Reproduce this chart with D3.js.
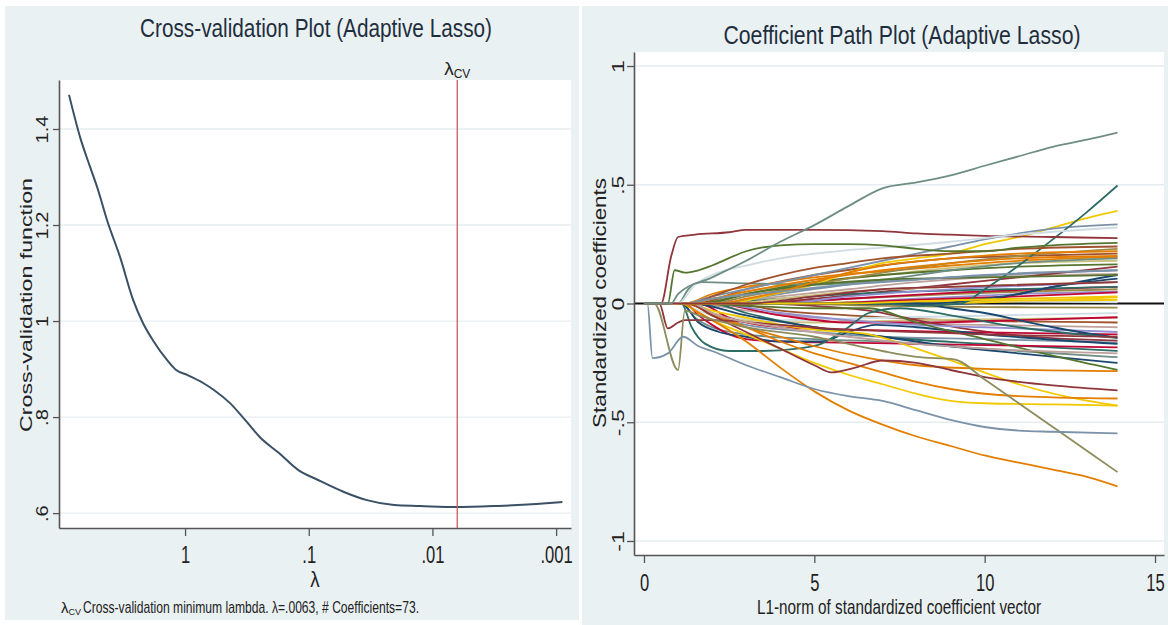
<!DOCTYPE html>
<html><head><meta charset="utf-8">
<script src="https://cdn.jsdelivr.net/npm/d3@7"></script>
<style>
body{margin:0;background:#fff;}
svg{display:block;font-family:"Liberation Sans",Arial,Helvetica,sans-serif;}
</style>
</head><body>
<svg id="c" width="1168" height="625"></svg>
<script>
// ---------------- DATA ----------------
// Left panel: cross-validation function vs lambda
const cvLambda = [8.67, 7.06, 5.86, 5.05, 4.27, 3.35, 2.63, 2.19, 1.82, 1.40, 1.18, 0.955, 0.714, 0.581, 0.433, 0.327, 0.248, 0.174, 0.122, 0.0841, 0.0519, 0.0339, 0.0204, 0.0126, 0.00646, 0.00295, 0.00145, 0.00089];
const cvValue  = [1.471, 1.383, 1.321, 1.273, 1.210, 1.133, 1.044, 0.996, 0.960, 0.919, 0.898, 0.8875, 0.871, 0.856, 0.829, 0.794, 0.758, 0.725, 0.690, 0.669, 0.644, 0.627, 0.617, 0.615, 0.6125, 0.615, 0.619, 0.623];
const cvTicksX = [1, 0.1, 0.01, 0.001];
const cvTickLabelsX = ["1", ".1", ".01", ".001"];
const cvTicksY = [0.6, 0.8, 1, 1.2, 1.4];
const cvTickLabelsY = [".6", ".8", "1", "1.2", "1.4"];
const lambdaCV = 0.0063;
const nCoefficients = 73;

// Right panel: coefficient paths (L1-norm, standardized coefficient)
const pathTicksX = [0, 5, 10, 15];
const pathTickLabelsX = ["0", "5", "10", "15"];
const pathTicksY = [-1, -0.5, 0, 0.5, 1];
const pathTickLabelsY = ["-1", "-.5", "0", ".5", "1"];

const palette = {
  navy:"#1a476f", maroon:"#90353b", green:"#55752f", orange:"#e37e00", teal:"#6e8e84",
  cran:"#c10534", lav:"#938dd2", khaki:"#cac27e", sienna:"#a0522d", emid:"#7b92a8",
  emerald:"#2d6d66", brown:"#9c8847", erose:"#bfa19c", gold:"#f2c800", bgray:"#cfdde3", olive:"#8d8c5c"
};

const coefPathColor = [
  "lav","erose","khaki","brown","sienna","cran","navy","emid","gold","bgray",
  "orange","maroon","green","emerald","teal",
  "erose","sienna","khaki","bgray","brown","cran","emid","maroon","cran","emerald","lav","navy",
  "teal","cran","navy","navy","green","emerald","gold","gold","orange","orange","orange","maroon","maroon","olive","emid",
  "gold","gold","cran","erose","lav","navy","emid","khaki","brown","emerald","green","orange","sienna","maroon","orange","emid","gold","bgray","green","maroon","teal"
];

const coefPaths = [
  // positive side, small
  [[0,0],[5,0],[8,0.02],[11,0.04],[13.9,0.05]],
  [[0,0],[2,0],[4,0.03],[6,0.06],[8,0.09],[10,0.11],[13.9,0.125]],
  [[0,0],[1.5,0],[3,0.05],[5,0.09],[7,0.12],[9,0.15],[11,0.17],[13.9,0.18]],
  [[0,0],[3.5,0],[6,0.02],[9,0.04],[13.9,0.06]],
  [[0,0],[1.5,0],[3,0.06],[5,0.12],[7,0.16],[9,0.19],[11,0.2],[13.9,0.21]],
  [[0,0],[3,0],[6,0.02],[9,0.045],[13.9,0.07]],
  [[0,0],[9.5,0],[11,0.04],[12,0.07],[13.9,0.12]],
  [[0,0],[2,0],[4,0.04],[6,0.08],[9,0.11],[13.9,0.14]],
  [[0,0],[8,0],[10,0.005],[12,0.015],[13.9,0.026]],
  [[0,0],[6,0],[9,0.012],[11,0.01],[13.9,0.005]],
  [[0,0],[1.2,0],[2,0.04],[3,0.07],[4,0.09],[5,0.11],[6,0.125],[7,0.135],[9,0.16],[11,0.18],[13.9,0.195]],
  [[0,0],[3,0],[5,0.02],[7,0.05],[9,0.08],[11,0.11],[13.9,0.155]],
  [[0,0],[1.8,0],[3,0.04],[5,0.09],[7,0.12],[9,0.14],[11,0.155],[13.9,0.165]],
  [[0,0],[2,0],[4,0.02],[6,0.04],[9,0.055],[13.9,0.07]],
  [[0,0],[1.0,0],[1.3,0.06],[1.7,0.09],[3,0.085],[5,0.08],[7,0.1],[9,0.14],[11,0.17],[13.9,0.19]],
  // negative side, small
  [[0,0],[1.5,0],[3,-0.03],[5,-0.06],[7,-0.08],[10,-0.09],[13.9,-0.1]],
  [[0,0],[2.5,0],[4,-0.03],[6,-0.05],[9,-0.07],[13.9,-0.08]],
  [[0,0],[1.2,0],[2,-0.04],[3,-0.07],[5,-0.08],[8,-0.07],[13.9,-0.06]],
  [[0,0],[1.0,0],[2,-0.05],[4,-0.07],[7,-0.06],[13.9,-0.04]],
  [[0,0],[4,0],[7,-0.01],[10,-0.015],[13.9,-0.017]],
  [[0,0],[2,0],[4,-0.05],[6,-0.08],[8,-0.08],[11,-0.07],[13.9,-0.058]],
  [[0,0],[1.3,0],[2,-0.05],[3,-0.09],[5,-0.12],[7,-0.14],[10,-0.15],[13.9,-0.165]],
  [[0,0],[3,0],[5,-0.01],[6.6,-0.03],[8,-0.07],[9.6,-0.11],[11,-0.135],[13.9,-0.156]],
  [[0,0],[1.6,0],[2.5,-0.06],[4,-0.1],[6,-0.11],[9,-0.12],[13.9,-0.13]],
  [[0,0],[2,0],[3,-0.04],[5,-0.1],[7,-0.14],[10,-0.17],[13.9,-0.2]],
  [[0,0],[2,0],[4,-0.04],[6,-0.07],[8,-0.09],[10,-0.1],[13.9,-0.12]],
  [[0,0],[8,0],[9,-0.02],[10,-0.04],[11,-0.07],[12,-0.1],[13.9,-0.145]],
  [[0,0],[1.1,0],[1.5,-0.06],[2,-0.1],[3,-0.13],[5,-0.15],[7,-0.16],[9,-0.18],[11,-0.2],[13.9,-0.226]],
  [[0,0],[1.2,0],[1.6,-0.05],[2,-0.09],[2.5,-0.13],[3,-0.15],[4,-0.16],[6,-0.165],[8,-0.17],[10,-0.175],[13.9,-0.185]],
  [[0,0],[1.4,0],[3,-0.05],[5,-0.1],[7,-0.14],[9,-0.18],[11,-0.21],[13.9,-0.25]],
  [[0,0],[1.1,0],[1.6,-0.08],[2.2,-0.12],[3,-0.14],[4,-0.16],[5.2,-0.16],[6,-0.12],[6.8,-0.09],[8,-0.1],[10,-0.13],[13.9,-0.17]],
  [[0,0],[1.5,0],[3,-0.01],[5,-0.02],[6.6,-0.02],[8,-0.08],[10,-0.15],[12,-0.22],[13.9,-0.28]],
  [[0,0],[1.1,0],[1.4,-0.1],[1.8,-0.17],[2.5,-0.2],[3.5,-0.2],[4.5,-0.19],[5.2,-0.17],[6,-0.1],[6.6,-0.04],[7.5,-0.02],[9,-0.05],[11,-0.1],[13.9,-0.145]],
  [[0,0],[1.1,0],[1.5,-0.03],[2,-0.07],[3,-0.13],[4,-0.19],[5,-0.25],[6,-0.3],[7,-0.34],[8,-0.38],[9,-0.41],[10,-0.42],[12,-0.425],[13.9,-0.43]],
  [[0,0],[1.3,0],[2,-0.03],[3,-0.06],[4,-0.09],[5,-0.11],[6.6,-0.13],[8,-0.19],[9.6,-0.27],[11,-0.34],[12.5,-0.395],[13.9,-0.43]],
  [[0,0],[1.3,0],[2,-0.05],[3,-0.1],[4,-0.14],[5,-0.18],[6.6,-0.23],[8,-0.26],[10,-0.275],[13.9,-0.285]],
  [[0,0],[1.2,0],[2,-0.04],[3,-0.1],[4,-0.16],[5,-0.21],[6,-0.25],[7,-0.29],[8,-0.33],[9,-0.36],[10,-0.38],[11,-0.39],[12,-0.395],[13.9,-0.4]],
  [[0,0],[1.15,0],[1.5,-0.03],[2,-0.07],[3,-0.16],[4,-0.27],[5,-0.37],[6,-0.45],[7,-0.51],[8,-0.56],[9,-0.6],[10,-0.64],[11,-0.67],[12,-0.7],[13,-0.73],[13.9,-0.77]],
  [[0,0],[0.45,0],[0.7,-0.105],[1.0,-0.08],[1.2,-0.07],[2,-0.07],[4,-0.09],[6,-0.11],[8,-0.12],[10,-0.13],[13.9,-0.14]],
  [[0,0],[1.3,0],[2,-0.05],[3,-0.12],[4,-0.19],[5,-0.26],[5.5,-0.29],[6.2,-0.27],[7,-0.24],[8,-0.25],[9,-0.28],[10,-0.31],[11,-0.33],[12,-0.345],[13.9,-0.366]],
  [[0,0],[0.3,0],[1.0,-0.28],[1.2,-0.03],[1.6,-0.05],[3,-0.1],[5,-0.14],[6,-0.17],[7,-0.2],[8,-0.225],[9.1,-0.235],[10,-0.32],[11,-0.42],[12,-0.52],[13,-0.62],[13.9,-0.71]],
  [[0,0],[0.1,0],[0.25,-0.23],[0.7,-0.21],[1.15,-0.14],[1.6,-0.18],[2,-0.2],[3,-0.26],[4,-0.31],[5,-0.36],[6,-0.39],[7,-0.41],[8,-0.45],[9,-0.49],[10,-0.52],[11,-0.535],[12,-0.54],[13.9,-0.547]],
  // positive side, larger
  [[0,0],[2.5,0],[3.5,0.03],[5,0.08],[6,0.13],[7,0.17],[8,0.19],[9,0.21],[10,0.25],[11,0.28],[12,0.32],[13,0.36],[13.9,0.39]],
  [[0,0],[4,0],[6,0.005],[9,0.01],[13.9,0.015]],
  [[0,0],[5,0],[7,0.01],[9,0.02],[11,0.03],[13.9,0.047]],
  [[0,0],[1.4,0],[2,-0.04],[4,-0.1],[6,-0.14],[8,-0.17],[10,-0.19],[13.9,-0.21]],
  [[0,0],[4,0],[6,0.03],[9,0.06],[13.9,0.09]],
  [[0,0],[8.5,0],[10,0.02],[11,0.04],[12,0.07],[13.9,0.105]],
  [[0,0],[1.2,0],[2,0.03],[3,0.06],[4,0.09],[5,0.12],[6,0.15],[7,0.18],[8,0.21],[9,0.24],[10,0.27],[11,0.295],[12,0.315],[13.9,0.333]],
  [[0,0],[2.5,0],[4,0.02],[6,0.05],[9,0.07],[13.9,0.09]],
  [[0,0],[2,0],[3,0.03],[5,0.08],[7,0.13],[9,0.17],[11,0.2],[13.9,0.23]],
  [[0,0],[7,0],[8,-0.01],[9.3,0],[10,0.06],[11,0.16],[12,0.27],[13,0.385],[13.9,0.497]],
  [[0,0],[1.6,0],[3,0.04],[5,0.08],[7,0.1],[10,0.11],[13.9,0.12]],
  [[0,0],[2.2,0],[3,0.02],[4,0.05],[5,0.09],[6,0.13],[7,0.16],[9,0.19],[11,0.21],[13.9,0.22]],
  [[0,0],[1.4,0],[2,0.03],[3,0.08],[4,0.12],[5,0.15],[6,0.17],[7,0.19],[9,0.21],[11,0.23],[13.9,0.24]],
  [[0,0],[0.5,0],[0.8,0.2],[1.0,0.28],[1.5,0.29],[2.5,0.3],[3,0.31],[5,0.31],[7,0.305],[8,0.295],[9,0.29],[10,0.285],[12,0.28],[13.9,0.275]],
  [[0,0],[1.3,0],[2,0.02],[3,0.05],[5,0.1],[7,0.14],[9,0.17],[11,0.19],[13.9,0.2]],
  [[0,0],[1.2,0],[2,0.02],[4,0.05],[6,0.08],[8,0.1],[10,0.12],[13.9,0.14]],
  [[0,0],[6,0],[8,0.01],[11,0.02],[13.9,0.03]],
  [[0,0],[1.0,0],[1.5,0.08],[2,0.12],[3,0.16],[4,0.19],[5,0.21],[6,0.225],[7,0.235],[9,0.26],[11,0.29],[13.9,0.32]],
  [[0,0],[0.7,0],[0.9,0.14],[1.2,0.13],[1.6,0.14],[2,0.16],[3,0.22],[4,0.245],[5,0.25],[6,0.25],[7,0.245],[8,0.23],[9,0.22],[10,0.22],[11,0.235],[12,0.245],[13.9,0.255]],
  [[0,0],[3,0],[5,0.03],[7,0.06],[9,0.07],[13.9,0.09]],
  [[0,0],[0.8,0],[1,0.04],[2,0.11],[3,0.18],[4,0.26],[5,0.33],[6,0.41],[7,0.485],[8,0.51],[9,0.54],[10,0.58],[11,0.62],[12,0.66],[13,0.69],[13.9,0.72]]
];

// ---------------- DRAWING ----------------
const svg = d3.select("#c");
const BG = "#eaf1f3";
const GRID = "#e6edf0";
const AXIS = "#555";
const TXT = "#222";
const TITLE = "#1f2e3d";

svg.append("rect").attr("x",5).attr("y",6).attr("width",574).attr("height",614).attr("fill",BG);
svg.append("rect").attr("x",582).attr("y",6).attr("width",586).attr("height",619).attr("fill",BG);

function addText(g, str, x, y, o) {
  const t = g.append("text").text(str)
    .attr("font-size", o.size).attr("fill", o.fill || TXT)
    .attr("text-anchor", o.anchor || "middle");
  let tr = `translate(${x},${y})`;
  if (o.rotate) tr += ` rotate(${o.rotate})`;
  if (o.sx) tr += ` scale(${o.sx},1)`;
  if (o.sy) tr += ` scale(1,${o.sy})`;
  t.attr("transform", tr);
  if (o.len) t.attr("textLength", o.len).attr("lengthAdjust", "spacingAndGlyphs");
  return t;
}

// ===== Left panel =====
const L = {x0:59, x1:571, y0:80, y1:528};
const xL = d3.scaleLog().domain([10.45, 0.000758]).range([L.x0, L.x1]);
const yL = d3.scaleLinear().domain([0.569, 1.502]).range([L.y1, L.y0]);
const gL = svg.append("g");
gL.append("rect").attr("x",L.x0).attr("y",L.y0).attr("width",L.x1-L.x0).attr("height",L.y1-L.y0).attr("fill","#fff");
gL.selectAll("line.grid").data(cvTicksY).join("line").attr("class","grid")
  .attr("x1",L.x0).attr("x2",L.x1).attr("y1",d=>yL(d)).attr("y2",d=>yL(d))
  .attr("stroke",GRID).attr("stroke-width",1.3);

const axLY = gL.append("g").attr("transform",`translate(${L.x0},0)`)
  .call(d3.axisLeft(yL).tickValues(cvTicksY).tickFormat((d,i)=>cvTickLabelsY[i]).tickSize(6).tickSizeOuter(0));
const axLX = gL.append("g").attr("transform",`translate(0,${L.y1})`)
  .call(d3.axisBottom(xL).tickValues(cvTicksX).tickFormat((d,i)=>cvTickLabelsX[i]).tickSize(8).tickSizeOuter(0));
[axLY, axLX].forEach(a=>{
  a.select(".domain").attr("stroke",AXIS).attr("stroke-width",1.6);
  a.selectAll(".tick line").attr("stroke",AXIS).attr("stroke-width",1.3);
  a.selectAll("text").attr("fill",TXT).attr("font-family",null).attr("font-size",null).style("font-size","20px");
});
axLY.selectAll("text").attr("x",null).attr("dy",null).attr("text-anchor","middle")
  .attr("transform","translate(-11,0) rotate(-90) scale(1,0.8)");
axLX.selectAll("text").attr("y",null).attr("dy",null)
  .attr("transform","translate(0,35) scale(0.72,1)").style("font-size","23px");

// CV curve
const cvData = cvLambda.map((l,i)=>[l, cvValue[i]]);
gL.append("path").datum(cvData)
  .attr("d", d3.line().x(d=>xL(d[0])).y(d=>yL(d[1])).curve(d3.curveMonotoneX))
  .attr("fill","none").attr("stroke","#3a5064").attr("stroke-width",2);

// lambda CV line
const xcv = xL(lambdaCV);
gL.append("line").attr("x1",xcv).attr("x2",xcv).attr("y1",L.y0).attr("y2",L.y1)
  .attr("stroke","#d0585c").attr("stroke-width",1.3);
const lab = gL.append("text").attr("x",xcv).attr("y",75).attr("text-anchor","middle").attr("fill",TXT);
lab.append("tspan").text("λ").attr("font-size",19);
lab.append("tspan").text("CV").attr("font-size",12).attr("dy",3);

// titles / labels
addText(svg, "Cross-validation Plot (Adaptive Lasso)", 316, 37, {size:26, fill:TITLE, len:352});
addText(svg, "Cross-validation function", 32, 305, {size:22, rotate:-90, sy:0.78, len:254});
addText(svg, "λ", (L.x0+L.x1)/2, 587, {size:22, sx:0.85});
const note = svg.append("text").attr("y",613).attr("fill",TXT);
note.append("tspan").attr("x",61).text("λ").attr("font-size",15);
note.append("tspan").text("CV").attr("font-size",9).attr("dy",2);
svg.append("text").attr("x",83).attr("y",613).attr("fill",TXT).attr("font-size",17)
  .attr("textLength",336).attr("lengthAdjust","spacingAndGlyphs")
  .text(`Cross-validation minimum lambda.  λ=${d3.format(".4f")(lambdaCV).replace(/^0/,"")}, # Coefficients=${nCoefficients}.`);

// ===== Right panel =====
const R = {x0:634, x1:1164, y0:52, y1:555};
const xR = d3.scaleLinear().domain([-0.293, 15.264]).range([R.x0, R.x1]);
const yR = d3.scaleLinear().domain([-1.059, 1.059]).range([R.y1, R.y0]);
const gR = svg.append("g");
gR.append("rect").attr("x",R.x0).attr("y",R.y0).attr("width",R.x1-R.x0).attr("height",R.y1-R.y0).attr("fill","#fff");
gR.selectAll("line.grid").data(pathTicksY.filter(d=>d!==0)).join("line").attr("class","grid")
  .attr("x1",R.x0).attr("x2",R.x1).attr("y1",d=>yR(d)).attr("y2",d=>yR(d))
  .attr("stroke",GRID).attr("stroke-width",1.3);
// zero reference line
gR.append("line").attr("x1",R.x0).attr("x2",R.x1).attr("y1",yR(0)).attr("y2",yR(0))
  .attr("stroke","#111").attr("stroke-width",2.2);

const lineR = d3.line().x(d=>xR(d[0])).y(d=>yR(d[1])).curve(d3.curveMonotoneX);
gR.selectAll("path.coef").data(coefPaths).join("path").attr("class","coef")
  .attr("d", lineR).attr("fill","none")
  .attr("stroke",(d,i)=>palette[coefPathColor[i]]).attr("stroke-width",1.8);

const axRY = gR.append("g").attr("transform",`translate(${R.x0},0)`)
  .call(d3.axisLeft(yR).tickValues(pathTicksY).tickFormat((d,i)=>pathTickLabelsY[i]).tickSize(7).tickSizeOuter(0));
const axRX = gR.append("g").attr("transform",`translate(0,${R.y1})`)
  .call(d3.axisBottom(xR).tickValues(pathTicksX).tickFormat((d,i)=>pathTickLabelsX[i]).tickSize(8).tickSizeOuter(0));
[axRY, axRX].forEach(a=>{
  a.select(".domain").attr("stroke",AXIS).attr("stroke-width",1.6);
  a.selectAll(".tick line").attr("stroke",AXIS).attr("stroke-width",1.3);
  a.selectAll("text").attr("fill",TXT).attr("font-family",null).attr("font-size",null).style("font-size","23px");
});
axRY.selectAll("text").attr("x",null).attr("dy",null).attr("text-anchor","middle")
  .attr("transform","translate(-10,0) rotate(-90) scale(1,0.72)");
axRX.selectAll("text").attr("y",null).attr("dy",null)
  .attr("transform","translate(0,36) scale(0.72,1)");

addText(svg, "Coefficient Path Plot (Adaptive Lasso)", 902, 44, {size:26, fill:TITLE, len:357});
addText(svg, "Standardized coefficients", 606, 303, {size:22, rotate:-90, sy:0.8, len:250});
addText(svg, "L1-norm of standardized coefficient vector", (R.x0+R.x1)/2, 614, {size:21, len:284});
</script>
</body></html>
